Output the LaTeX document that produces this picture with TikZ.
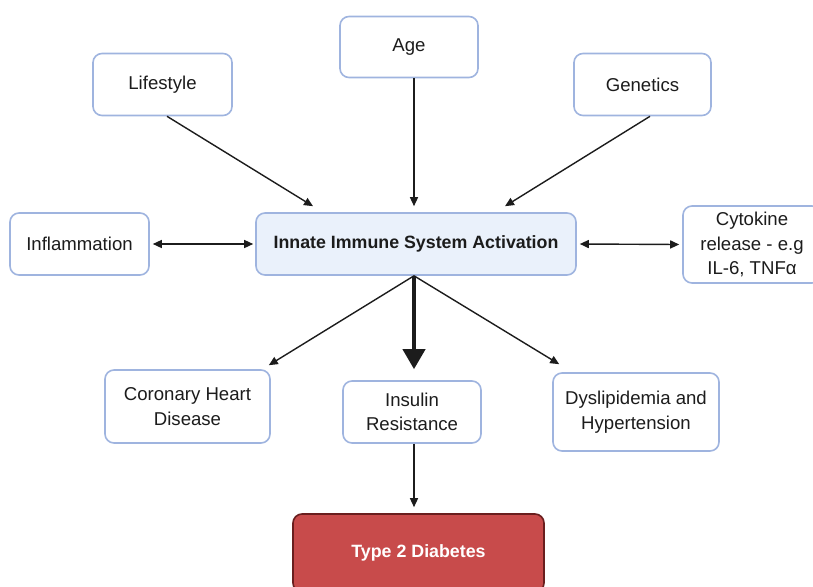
\documentclass[tikz,border=0pt]{standalone}
\usepackage{fontspec}
\setmainfont{Liberation Sans}
\usetikzlibrary{arrows.meta}
\definecolor{boxline}{HTML}{9FB4DF}
\definecolor{boxfill}{HTML}{EAF1FB}
\definecolor{redfill}{HTML}{C84B4B}
\definecolor{redline}{HTML}{6A1E1E}
\definecolor{txt}{HTML}{1C1C1C}
\tikzset{
  x=1pt,y=-1pt,
  box/.style={draw=boxline,line width=1.6pt,rounded corners=9pt,fill=white,
    align=center,text=txt,font=\fontsize{18.6}{24.5}\selectfont,inner sep=2pt},
  conn/.style={draw=txt,line width=1.4pt,-{Triangle[length=9pt,width=8pt]}},
  dconn/.style={draw=txt,line width=1.4pt,{Triangle[length=9pt,width=8pt]}-{Triangle[length=9pt,width=8pt]}},
  thick conn/.style={draw=txt,line width=4pt,-{Triangle[length=20pt,width=22pt]}}
}
\begin{document}
\begin{tikzpicture}
\useasboundingbox (0,0) rectangle (813,586);
\node[box,minimum width=138pt,minimum height=61pt] (age) at (409,47) {Age};
\node[box,minimum width=139pt,minimum height=62pt] (life) at (162.5,84.5) {Lifestyle};
\node[box,minimum width=137pt,minimum height=62pt] (gen) at (642.5,84.5) {Genetics};
\node[box,minimum width=139pt,minimum height=62pt] (infl) at (79.5,244) {Inflammation};
\node[box,fill=boxfill,minimum width=320pt,minimum height=62pt,font=\bfseries\fontsize{17.8}{24.5}\selectfont] (innate) at (416,244) {Innate Immune System Activation};
\node[box,minimum width=138pt,minimum height=77pt] (cyto) at (752,244.5) {Cytokine\\release - e.g\\IL-6, TNFα};
\node[box,minimum width=165pt,minimum height=73pt] (chd) at (187.5,406.5) {Coronary Heart\\Disease};
\node[box,minimum width=138pt,minimum height=62pt] (ins) at (412,412) {Insulin\\Resistance};
\node[box,minimum width=166pt,minimum height=78pt] (dys) at (636,412) {Dyslipidemia and\\Hypertension};
\node[box,draw=redline,fill=redfill,text=white,minimum width=251pt,minimum height=78pt,font=\bfseries\fontsize{17.8}{24.5}\selectfont] (t2d) at (418.5,553) {Type 2 Diabetes};

\draw[conn] ([xshift=4.5pt]life.south) -- ([xshift=-103pt,yshift=6pt]innate.north);
\draw[conn] ([xshift=5pt]age.south) -- ([xshift=-2pt,yshift=6pt]innate.north);
\draw[conn] ([xshift=7.5pt]gen.south) -- ([xshift=89pt,yshift=6pt]innate.north);
\draw[dconn] ([xshift=3pt]infl.east) -- ([xshift=-2pt]innate.west);
\draw[dconn] ([xshift=3pt]innate.east) -- ([xshift=-3pt]cyto.west);
\draw[conn] ([xshift=-2pt]innate.south) -- ([xshift=-2pt,yshift=4pt]chd.north east);
\draw[conn] ([xshift=-2pt]innate.south) -- ([xshift=7pt,yshift=8pt]dys.north west);
\draw[thick conn] ([xshift=-2pt]innate.south) -- ([xshift=2pt,yshift=11pt]ins.north);
\draw[conn] ([xshift=2pt]ins.south) -- ([xshift=-4.5pt,yshift=6pt]t2d.north);
\end{tikzpicture}
\end{document}
